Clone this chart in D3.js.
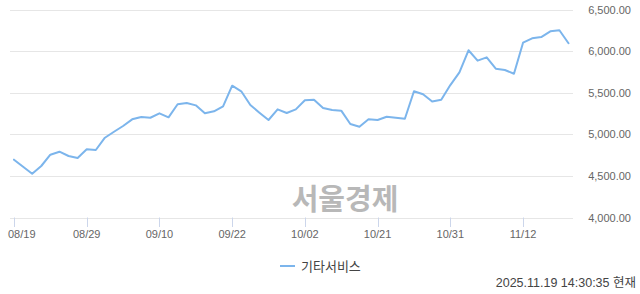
<!DOCTYPE html>
<html>
<head>
<meta charset="utf-8">
<script src="https://cdn.jsdelivr.net/npm/d3@7"></script>
<style>
  body { margin: 0; background: #fff; }
  svg { display: block; font-family: "Liberation Sans", "Noto Sans CJK KR", sans-serif; }
</style>
</head>
<body>
<div class="main-container"></div>
<script>
// trading days, 2025-08-19 .. 2025-11-19
const dates = [
  "08/19","08/20","08/21","08/22","08/25","08/26","08/27","08/28","08/29",
  "09/01","09/02","09/03","09/04","09/05","09/08","09/09","09/10","09/11","09/12",
  "09/15","09/16","09/17","09/18","09/19","09/22","09/23","09/24","09/25","09/26",
  "09/29","09/30","10/01","10/02","10/10","10/13","10/14","10/15","10/16","10/17",
  "10/20","10/21","10/22","10/23","10/24","10/27","10/28","10/29","10/30","10/31",
  "11/03","11/04","11/05","11/06","11/07","11/10","11/11","11/12","11/13","11/14",
  "11/17","11/18","11/19"
];
const values = [
  4695, 4610, 4526, 4619, 4755, 4791, 4739, 4715, 4820,
  4811, 4959, 5031, 5100, 5180, 5208, 5199, 5252, 5204, 5361,
  5376, 5348, 5252, 5276, 5336, 5584, 5517, 5352, 5260, 5172,
  5300, 5256, 5300, 5409, 5416, 5316, 5292, 5284, 5124, 5091,
  5180, 5172, 5211, 5199, 5187, 5517, 5481, 5394, 5416, 5592,
  5745, 6010, 5885, 5925, 5788, 5773, 5728, 6101, 6154, 6169,
  6238, 6250, 6094
];
const tickLabels = ["08/19","08/29","09/10","09/22","10/02","10/21","10/31","11/12"];
const yTicks = [4000, 4500, 5000, 5500, 6000, 6500];
const seriesName = "기타서비스";
const stamp = "2025.11.19 14:30:35 현재";
const watermark = "서울경제";

const width = 640;
const height = 294;
const color = "#7cb5ec";

const svg = d3.select(".main-container")
  .append("svg")
  .attr("width", width)
  .attr("height", height);

const x = d3.scalePoint()
  .domain(dates)
  .range([14, 568.5]);

const y = d3.scaleLinear()
  .domain([4000, 6500])
  .range([217.5, 9.5]);

// grid
svg.append("g")
  .selectAll("line")
  .data(yTicks)
  .join("line")
  .attr("x1", 10)
  .attr("x2", 573)
  .attr("y1", d => Math.round(y(d)) + 0.5)
  .attr("y2", d => Math.round(y(d)) + 0.5)
  .attr("stroke", "#e6e6e6");

// y labels on the right
const fmt = d3.format(",.2f");
svg.append("g")
  .selectAll("text")
  .data(yTicks)
  .join("text")
  .attr("x", 631)
  .attr("y", d => y(d) + 4)
  .attr("text-anchor", "end")
  .attr("font-size", 11)
  .attr("fill", "#666")
  .text(d => fmt(d));

// watermark
svg.append("text")
  .attr("x", 345)
  .attr("y", 210)
  .attr("text-anchor", "middle")
  .attr("font-size", 29)
  .attr("font-weight", "bold")
  .attr("font-family", "Noto Sans CJK KR")
  .attr("fill", "#b8b8b8")
  .text(watermark);

// x ticks
const xt = svg.append("g");
xt.selectAll("line")
  .data(tickLabels)
  .join("line")
  .attr("x1", d => Math.round(x(d)) + 0.5)
  .attr("x2", d => Math.round(x(d)) + 0.5)
  .attr("y1", 217.5)
  .attr("y2", 227)
  .attr("stroke", "#ccd6eb");
xt.selectAll("text")
  .data(tickLabels)
  .join("text")
  .attr("x", (d, i) => i === 0 ? 8 : x(d))
  .attr("y", 238)
  .attr("text-anchor", (d, i) => i === 0 ? "start" : "middle")
  .attr("font-size", 11)
  .attr("fill", "#666")
  .text(d => d);

// series line
const line = d3.line()
  .x((d, i) => x(dates[i]))
  .y(d => y(d));

svg.append("path")
  .datum(values)
  .attr("d", line)
  .attr("fill", "none")
  .attr("stroke", color)
  .attr("stroke-width", 2)
  .attr("stroke-linejoin", "round")
  .attr("stroke-linecap", "round");

// legend
svg.append("line")
  .attr("x1", 280)
  .attr("x2", 295)
  .attr("y1", 266)
  .attr("y2", 266)
  .attr("stroke", color)
  .attr("stroke-width", 2);
svg.append("text")
  .attr("x", 301)
  .attr("y", 271)
  .attr("font-size", 13)
  .attr("fill", "#444")
  .text(seriesName);

// timestamp
svg.append("text")
  .attr("x", 636)
  .attr("y", 287)
  .attr("text-anchor", "end")
  .attr("font-size", 12.5)
  .attr("fill", "#444")
  .text(stamp);
</script>
</body>
</html>
